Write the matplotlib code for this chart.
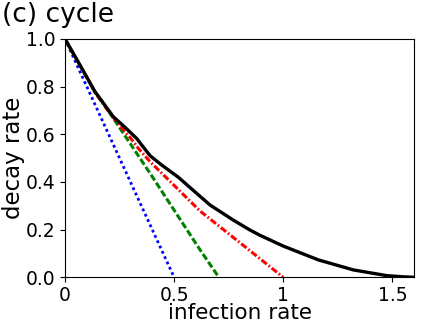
import numpy as np
import matplotlib
matplotlib.use('Agg')
import matplotlib.pyplot as plt

# values
black_x = [0, 0.0688, 0.1375, 0.221, 0.28, 0.328, 0.36, 0.39, 0.443, 0.519, 0.626,
           0.665, 0.771, 0.848, 0.894, 1.0, 1.161, 1.321, 1.474, 1.55, 1.6]
black_y = [1, 0.89, 0.779, 0.674, 0.625, 0.583, 0.545, 0.51, 0.471, 0.42, 0.334,
           0.303, 0.24, 0.198, 0.176, 0.131, 0.073, 0.031, 0.007, 0.002, 0]

red_x = [0, 0.0688, 0.1375, 0.2, 0.244, 0.3, 0.336, 0.39, 0.619, 0.825, 1.0]
red_y = [1, 0.89, 0.776, 0.695, 0.645, 0.585, 0.541, 0.485, 0.278, 0.128, 0]

green_x = [0, 0.0688, 0.1375, 0.17, 0.39, 0.619, 0.705]
green_y = [1, 0.89, 0.776, 0.738, 0.436, 0.115, 0]

blue_x = [0, 0.5]
blue_y = [1, 0]

xticks = [0, 0.5, 1, 1.5]
xtick_labels = ["0", "0.5", "1", "1.5"]
yticks = [0.0, 0.2, 0.4, 0.6, 0.8, 1.0]

fig = plt.figure(figsize=(4.36, 3.27), dpi=100)
ax = fig.add_axes([0.149, 0.152, 0.801, 0.729])

ax.plot(blue_x, blue_y, color='blue', linewidth=2.0, dashes=(1, 1.1))
ax.plot(green_x, green_y, color='green', linewidth=2.2, dashes=(2.2, 0.9))
ax.plot(red_x, red_y, color='red', linewidth=2.2, dashes=(2.2, 0.75, 0.55, 0.75))
ax.plot(black_x, black_y, color='black', linestyle='-', linewidth=2.4)

ax.set_xlim(0, 1.6)
ax.set_ylim(0, 1.0)
ax.set_xticks(xticks)
ax.set_xticklabels(xtick_labels)
ax.set_yticks(yticks)
ax.tick_params(labelsize=13.5)
ax.tick_params(axis='x', pad=2.5)
ax.set_xlabel("infection rate", fontsize=15.5, labelpad=-1)
ax.set_ylabel("decay rate", fontsize=16.5)
ax.yaxis.set_label_coords(-0.115, 0.5)

fig.text(0.005, 0.995, "(c) cycle", fontsize=19, va='top', ha='left')

plt.savefig('out.png', dpi=100)
